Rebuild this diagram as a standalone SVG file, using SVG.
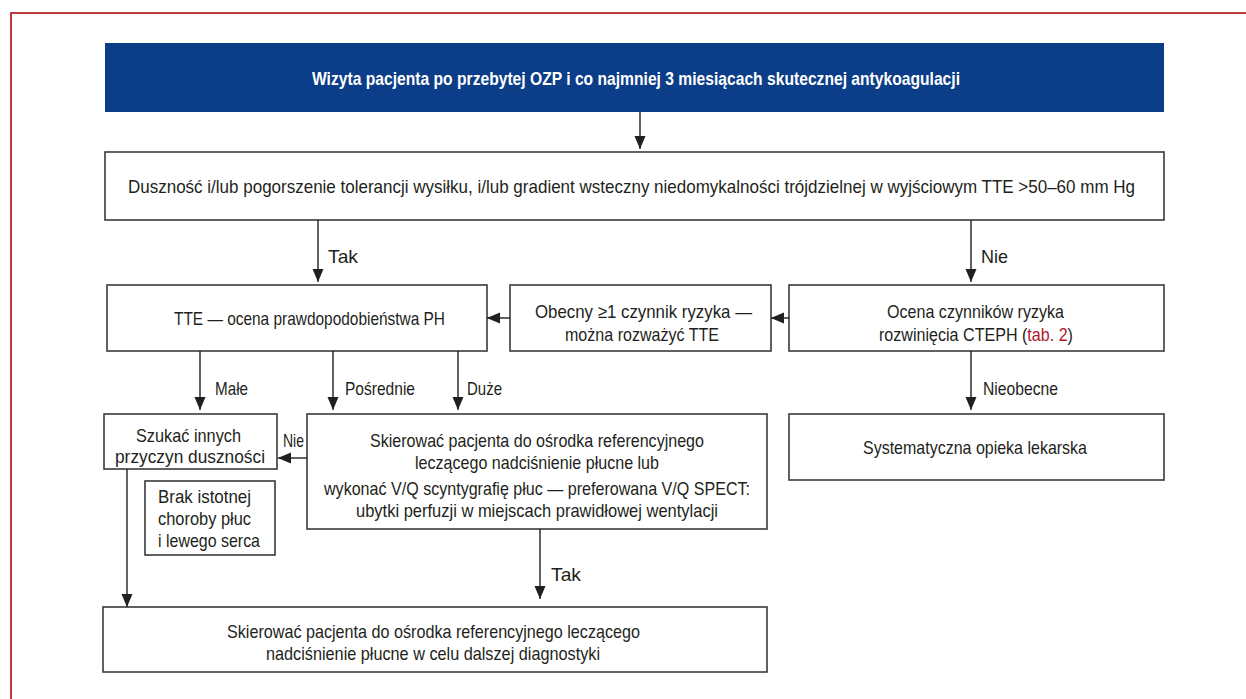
<svg xmlns="http://www.w3.org/2000/svg" width="1246" height="699" viewBox="0 0 1246 699">
<style>
.box{fill:#fff;stroke:#3a3a3a;stroke-width:1.6}
.t{font-family:"Liberation Sans",Arial,sans-serif;font-size:18.5px;fill:#231f20}
.h{font-family:"Liberation Sans",Arial,sans-serif;font-size:19px;font-weight:bold;fill:#fff}
.c{stroke:#231f20;stroke-width:1.4;fill:none;marker-end:url(#ah)}
.red{fill:#b0182b}
</style>
<defs>
<marker id="ah" markerUnits="userSpaceOnUse" markerWidth="12" markerHeight="14" refX="13" refY="6" orient="auto">
<path d="M0,0.5 L13,6 L0,11.5 z" fill="#231f20"/>
</marker>
</defs>
<rect width="1246" height="699" fill="#fff"/>
<path d="M11,699 V13 H1246" fill="none" stroke="#c0393f" stroke-width="2"/>

<g id="start">
<rect x="105" y="43" width="1059" height="69" fill="#0b3d88"/>
<text class="h" x="312" y="85" textLength="648" lengthAdjust="spacingAndGlyphs">Wizyta pacjenta po przebytej OZP i co najmniej 3 miesiącach skutecznej antykoagulacji</text>
</g>

<g id="symptoms">
<rect class="box" x="105" y="152" width="1059" height="68"/>
<text class="t" x="128" y="193" textLength="1007" lengthAdjust="spacingAndGlyphs">Duszność i/lub pogorszenie tolerancji wysiłku, i/lub gradient wsteczny niedomykalności trójdzielnej w wyjściowym TTE &gt;50–60 mm Hg</text>
</g>

<g id="tte">
<rect class="box" x="107" y="285" width="380" height="66"/>
<text class="t" x="174" y="325" textLength="271" lengthAdjust="spacingAndGlyphs">TTE — ocena prawdopodobieństwa PH</text>
</g>

<g id="risk-present">
<rect class="box" x="510" y="285" width="261" height="66"/>
<text class="t" x="535" y="318" textLength="217" lengthAdjust="spacingAndGlyphs">Obecny ≥1 czynnik ryzyka —</text>
<text class="t" x="565" y="341" textLength="154" lengthAdjust="spacingAndGlyphs">można rozważyć TTE</text>
</g>

<g id="risk-assessment">
<rect class="box" x="789" y="285" width="375" height="66"/>
<text class="t" x="887" y="318" textLength="177" lengthAdjust="spacingAndGlyphs">Ocena czynników ryzyka</text>
<text class="t" transform="translate(879,341) scale(0.87,1)" x="0" y="0">rozwinięcia CTEPH (<tspan class="red">tab. 2</tspan>)</text>
</g>

<g id="other-causes">
<rect class="box" x="104" y="414" width="173" height="55"/>
<text class="t" x="136" y="442" textLength="105" lengthAdjust="spacingAndGlyphs">Szukać innych</text>
<text class="t" x="115" y="463" textLength="150" lengthAdjust="spacingAndGlyphs">przyczyn duszności</text>
</g>

<g id="refer-vq">
<rect class="box" x="307" y="414" width="460" height="115"/>
<text class="t" x="370" y="447" textLength="334" lengthAdjust="spacingAndGlyphs">Skierować pacjenta do ośrodka referencyjnego</text>
<text class="t" x="415" y="469" textLength="244" lengthAdjust="spacingAndGlyphs">leczącego nadciśnienie płucne lub</text>
<text class="t" x="324" y="495" textLength="426" lengthAdjust="spacingAndGlyphs">wykonać V/Q scyntygrafię płuc — preferowana V/Q SPECT:</text>
<text class="t" x="356" y="517" textLength="362" lengthAdjust="spacingAndGlyphs">ubytki perfuzji w miejscach prawidłowej wentylacji</text>
</g>

<g id="no-disease">
<rect class="box" x="145" y="481" width="130" height="74"/>
<text class="t" x="158" y="503" textLength="93" lengthAdjust="spacingAndGlyphs">Brak istotnej</text>
<text class="t" x="158" y="525" textLength="93" lengthAdjust="spacingAndGlyphs">choroby płuc</text>
<text class="t" x="158" y="547" textLength="102" lengthAdjust="spacingAndGlyphs">i lewego serca</text>
</g>

<g id="routine-care">
<rect class="box" x="789" y="414" width="375" height="66"/>
<text class="t" x="863" y="454" textLength="224" lengthAdjust="spacingAndGlyphs">Systematyczna opieka lekarska</text>
</g>

<g id="refer-final">
<rect class="box" x="103" y="607" width="664" height="65"/>
<text class="t" x="227" y="638" textLength="413" lengthAdjust="spacingAndGlyphs">Skierować pacjenta do ośrodka referencyjnego leczącego</text>
<text class="t" x="266" y="660" textLength="334" lengthAdjust="spacingAndGlyphs">nadciśnienie płucne w celu dalszej diagnostyki</text>
</g>

<g id="connectors">
<line class="c" x1="640" y1="112" x2="640" y2="149"/>
<line class="c" x1="318" y1="220" x2="318" y2="282"/>
<line class="c" x1="971" y1="220" x2="971" y2="282"/>
<line class="c" x1="789" y1="318" x2="771" y2="318"/>
<line class="c" x1="510" y1="318" x2="487" y2="318"/>
<line class="c" x1="200" y1="351" x2="200" y2="410"/>
<line class="c" x1="333" y1="351" x2="333" y2="410"/>
<line class="c" x1="458" y1="351" x2="458" y2="410"/>
<line class="c" x1="971" y1="351" x2="971" y2="410"/>
<line class="c" x1="307" y1="458" x2="278" y2="458"/>
<line class="c" x1="127" y1="469" x2="127" y2="607"/>
<line class="c" x1="540" y1="529" x2="540" y2="599"/>
<text class="t" x="328" y="263" textLength="30" lengthAdjust="spacingAndGlyphs">Tak</text>
<text class="t" x="981" y="263" textLength="27" lengthAdjust="spacingAndGlyphs">Nie</text>
<text class="t" x="215" y="395" textLength="33" lengthAdjust="spacingAndGlyphs">Małe</text>
<text class="t" x="345" y="395" textLength="70" lengthAdjust="spacingAndGlyphs">Pośrednie</text>
<text class="t" x="467" y="395" textLength="35" lengthAdjust="spacingAndGlyphs">Duże</text>
<text class="t" x="983" y="395" textLength="75" lengthAdjust="spacingAndGlyphs">Nieobecne</text>
<text class="t" x="283" y="447" textLength="21" lengthAdjust="spacingAndGlyphs">Nie</text>
<text class="t" x="551" y="581" textLength="30" lengthAdjust="spacingAndGlyphs">Tak</text>
</g>
</svg>
